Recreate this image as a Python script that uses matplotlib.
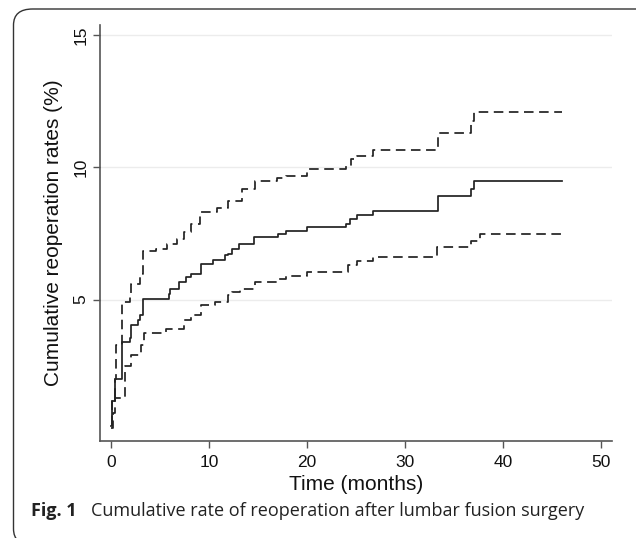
import matplotlib
matplotlib.use("Agg")
import matplotlib.pyplot as plt
from matplotlib.patches import FancyBboxPatch

# Data: step points (time in months, cumulative rate %)
est_t = [0.05, 0.1, 0.4, 1.1, 1.95, 2.1, 2.8, 3.0, 3.3, 5.9, 6.0, 7.0, 7.7, 8.2, 9.2, 10.4,
         11.6, 11.9, 12.4, 13.1, 14.6, 17.0, 17.9, 20.0, 24.0, 24.4, 25.1, 26.7, 33.4, 36.7, 37.0, 46.0]
est_y = [0.23, 1.17, 2.0, 3.4, 3.53, 4.03, 4.22, 4.41, 5.03, 5.22, 5.41, 5.66, 5.86, 5.97, 6.35, 6.48,
         6.67, 6.73, 6.92, 7.1, 7.36, 7.48, 7.6, 7.73, 7.86, 8.05, 8.2, 8.36, 8.9, 9.17, 9.47, 9.47]

up_t = [0.05, 0.1, 0.4, 0.58, 1.1, 1.95, 2.1, 3.0, 3.3, 4.6, 5.7, 6.7, 7.5, 8.2, 9.1, 10.8, 11.9,
        13.4, 14.7, 16.9, 17.9, 20.0, 24.0, 24.5, 25.1, 26.7, 33.4, 36.7, 37.0, 46.0]
up_y = [0.3, 1.17, 2.0, 3.28, 4.92, 5.1, 5.6, 5.97, 6.85, 6.92, 7.1, 7.29, 7.54, 7.86, 8.3, 8.45, 8.73,
        9.17, 9.48, 9.6, 9.67, 9.92, 10.05, 10.3, 10.42, 10.64, 11.3, 11.74, 12.08, 12.08]

lo_t = [0.05, 0.2, 0.4, 1.4, 2.1, 3.1, 3.4, 5.6, 7.5, 8.2, 9.2, 10.6, 11.9, 12.4, 13.2, 14.7,
        16.9, 17.9, 20.0, 24.2, 25.1, 26.7, 33.3, 36.7, 37.6, 46.0]
lo_y = [0.15, 0.7, 1.28, 2.47, 2.9, 3.28, 3.72, 3.9, 4.22, 4.41, 4.81, 4.91, 5.16, 5.29, 5.41, 5.66,
        5.79, 5.89, 6.04, 6.29, 6.44, 6.6, 6.98, 7.23, 7.46, 7.46]

xticks = [0, 10, 20, 30, 40, 50]
yticks = [5, 10, 15]

plt.rcParams['font.family'] = ['Liberation Sans', 'DejaVu Sans']

fig = plt.figure(figsize=(6.36, 5.38), dpi=100)
W, H = 636, 538

# rounded border box
box = FancyBboxPatch((13.5 / W, (H - 545) / H), (660 - 13.5) / W, (545 - 9) / H,
                     boxstyle="round,pad=0,rounding_size=0.03",
                     transform=fig.transFigure, fill=False, edgecolor='#333333',
                     linewidth=1.0, clip_on=False)
fig.patches.append(box)

ax = fig.add_axes([100 / W, 1 - 441 / H, (612 - 100) / W, (441 - 25) / H])
ax.set_xlim(-1.1, 51.1)
ax.set_ylim(-0.35, 15.38)

for y in yticks:
    ax.axhline(y, color='#ececec', linewidth=1.0, zorder=0)

ax.step(est_t, est_y, where='post', color='#222222', linewidth=1.25)
ax.step(up_t, up_y, where='post', color='#222222', linewidth=1.25, dashes=(5.5, 3.2))
ax.step(lo_t, lo_y, where='post', color='#222222', linewidth=1.25, dashes=(5.5, 3.2))

for s in ['top', 'right']:
    ax.spines[s].set_visible(False)
for s in ['left', 'bottom']:
    ax.spines[s].set_color('#555555')
    ax.spines[s].set_linewidth(1.2)

ax.set_xticks(xticks)
ax.set_yticks(yticks)
ax.tick_params(axis='both', colors='#555555', labelcolor='#111111', labelsize=12.5, length=5, width=1)
ax.tick_params(axis='x', pad=5)
for lab in ax.get_yticklabels():
    lab.set_rotation(90)
    lab.set_va('center')

ax.set_xlabel('Time (months)', fontsize=15, color='#111111', labelpad=4)
ax.set_ylabel('Cumulative reoperation rates (%)', fontsize=15, color='#111111', labelpad=7)

fig.text(31 / W, 1 - 511 / H, 'Fig. 1', fontsize=13, fontweight='bold', family='Open Sans', va='center', color='#222222')
fig.text(91 / W, 1 - 511 / H, 'Cumulative rate of reoperation after lumbar fusion surgery', fontsize=13,
         family='Open Sans', va='center', color='#222222')

fig.savefig('out.png', dpi=100)
